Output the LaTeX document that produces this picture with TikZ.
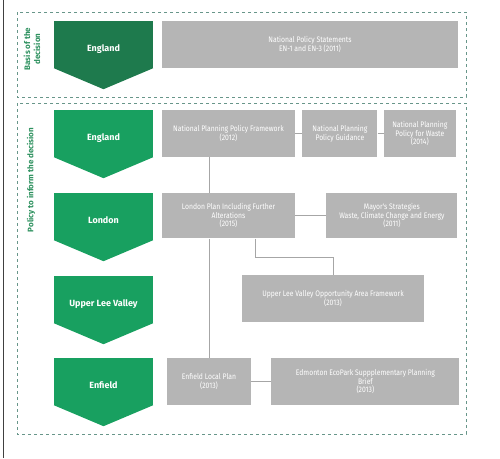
\documentclass[tikz,border=0pt]{standalone}
\usepackage{fontspec}
\setmainfont{Fira Sans}
\newfontfamily\narrowfont[FakeStretch=0.85]{Fira Sans}
\usepackage{tikz}
\usetikzlibrary{positioning, calc}

\definecolor{basisgreen}{RGB}{30,122,77}
\definecolor{policygreen}{RGB}{24,160,96}
\definecolor{boxgray}{RGB}{181,181,181}
\definecolor{linegray}{RGB}{166,166,166}
\definecolor{framegreen}{RGB}{104,150,138}
\definecolor{sidegreen}{RGB}{46,145,95}

\begin{document}
\begin{tikzpicture}[
  x=1pt, y=-1pt,
  font=\narrowfont\fontsize{8}{8.5}\selectfont,
  level/.style={fill=#1, text=white, minimum width=99pt, minimum height=47pt, inner sep=0pt,
    text height=14pt, text depth=0pt, font=\fontsize{9}{10}\selectfont\bfseries},
  doc/.style={fill=boxgray, text=white, align=center, inner sep=1pt, minimum height=47pt},
  link/.style={draw=linegray, line width=1pt},
  section/.style={draw=framegreen, dashed, line width=0.8pt},
  side/.style={rotate=90, text=sidegreen, align=center, font=\fontsize{8}{10}\selectfont\bfseries}
]
\useasboundingbox (0,0) rectangle (500,458);

% Frame and sections
\draw[black!75, line width=0.8pt] (3,0) -- (3,458);
\draw[section] (17,12) rectangle (466,97);
\draw[section] (17,103) rectangle (466,434);
\node[side] (basislabel) at (32,49) {Basis of the\\decision};
\node[side] (policylabel) at (31,180) {Policy to inform the decision};

% Levels
\node[level=basisgreen] (basis) at (103.5,44.5) {England};
\node[level=policygreen] (eng) at (103.5,133.5) {England};
\node[level=policygreen] (lon) at (103.5,216.5) {London};
\node[level=policygreen] (ulv) at (103.5,299.5) {Upper Lee Valley};
\node[level=policygreen] (enf) at (103.5,381.5) {Enfield};
\foreach \n/\c in {basis/basisgreen, eng/policygreen, lon/policygreen, ulv/policygreen, enf/policygreen}
  \fill[\c] (\n.south west) -- (\n.south east) -- ($(\n.south)+(0,21)$) -- cycle;

% Documents
\node[doc, minimum width=296pt] (nps) at (310,44.5) {National Policy Statements\\EN-1 and EN-3 (2011)};
\node[doc, minimum width=133pt] (nppf) at (228.5,133.5) {National Planning Policy Framework\\(2012)};
\node[doc, minimum width=75pt, right=7pt of nppf] (nppg) {National Planning\\Policy Guidance};
\node[doc, minimum width=72pt, right=6pt of nppg] (nppw) {National Planning\\Policy for Waste\\(2014)};
\node[doc, minimum width=133pt, minimum height=45pt, below=36pt of nppf] (lplan) {London Plan Including Further\\Alterations\\(2015)};
\node[doc, minimum width=131pt, minimum height=45pt, right=31pt of lplan] (mayor) {Mayor's Strategies\\Waste, Climate Change and Energy\\(2011)};
\node[doc, minimum width=182pt] (ulvf) at (333,298.5) {Upper Lee Valley Opportunity Area Framework\\(2013)};
\node[doc, minimum width=84pt] (elp) at (209,381.5) {Enfield Local Plan\\(2013)};
\node[doc, minimum width=188pt, right=20pt of elp] (eco) {Edmonton EcoPark Suppplementary Planning\\Brief\\(2013)};

% Links
\draw[link] (nppf) -- (nppg);
\draw[link] (nppg) -- (nppw);
\draw[link] (lplan) -- (mayor);
\draw[link] (elp) -- (eco);
\draw[link] (elp.north |- nppf.south) -- (elp.north |- lplan.north);
\draw[link] (elp.north |- lplan.south) -- (elp.north);
\draw[link] ([xshift=26.5pt]lplan.south) -- ++(0,19) -| (ulvf.north);

\end{tikzpicture}
\end{document}
